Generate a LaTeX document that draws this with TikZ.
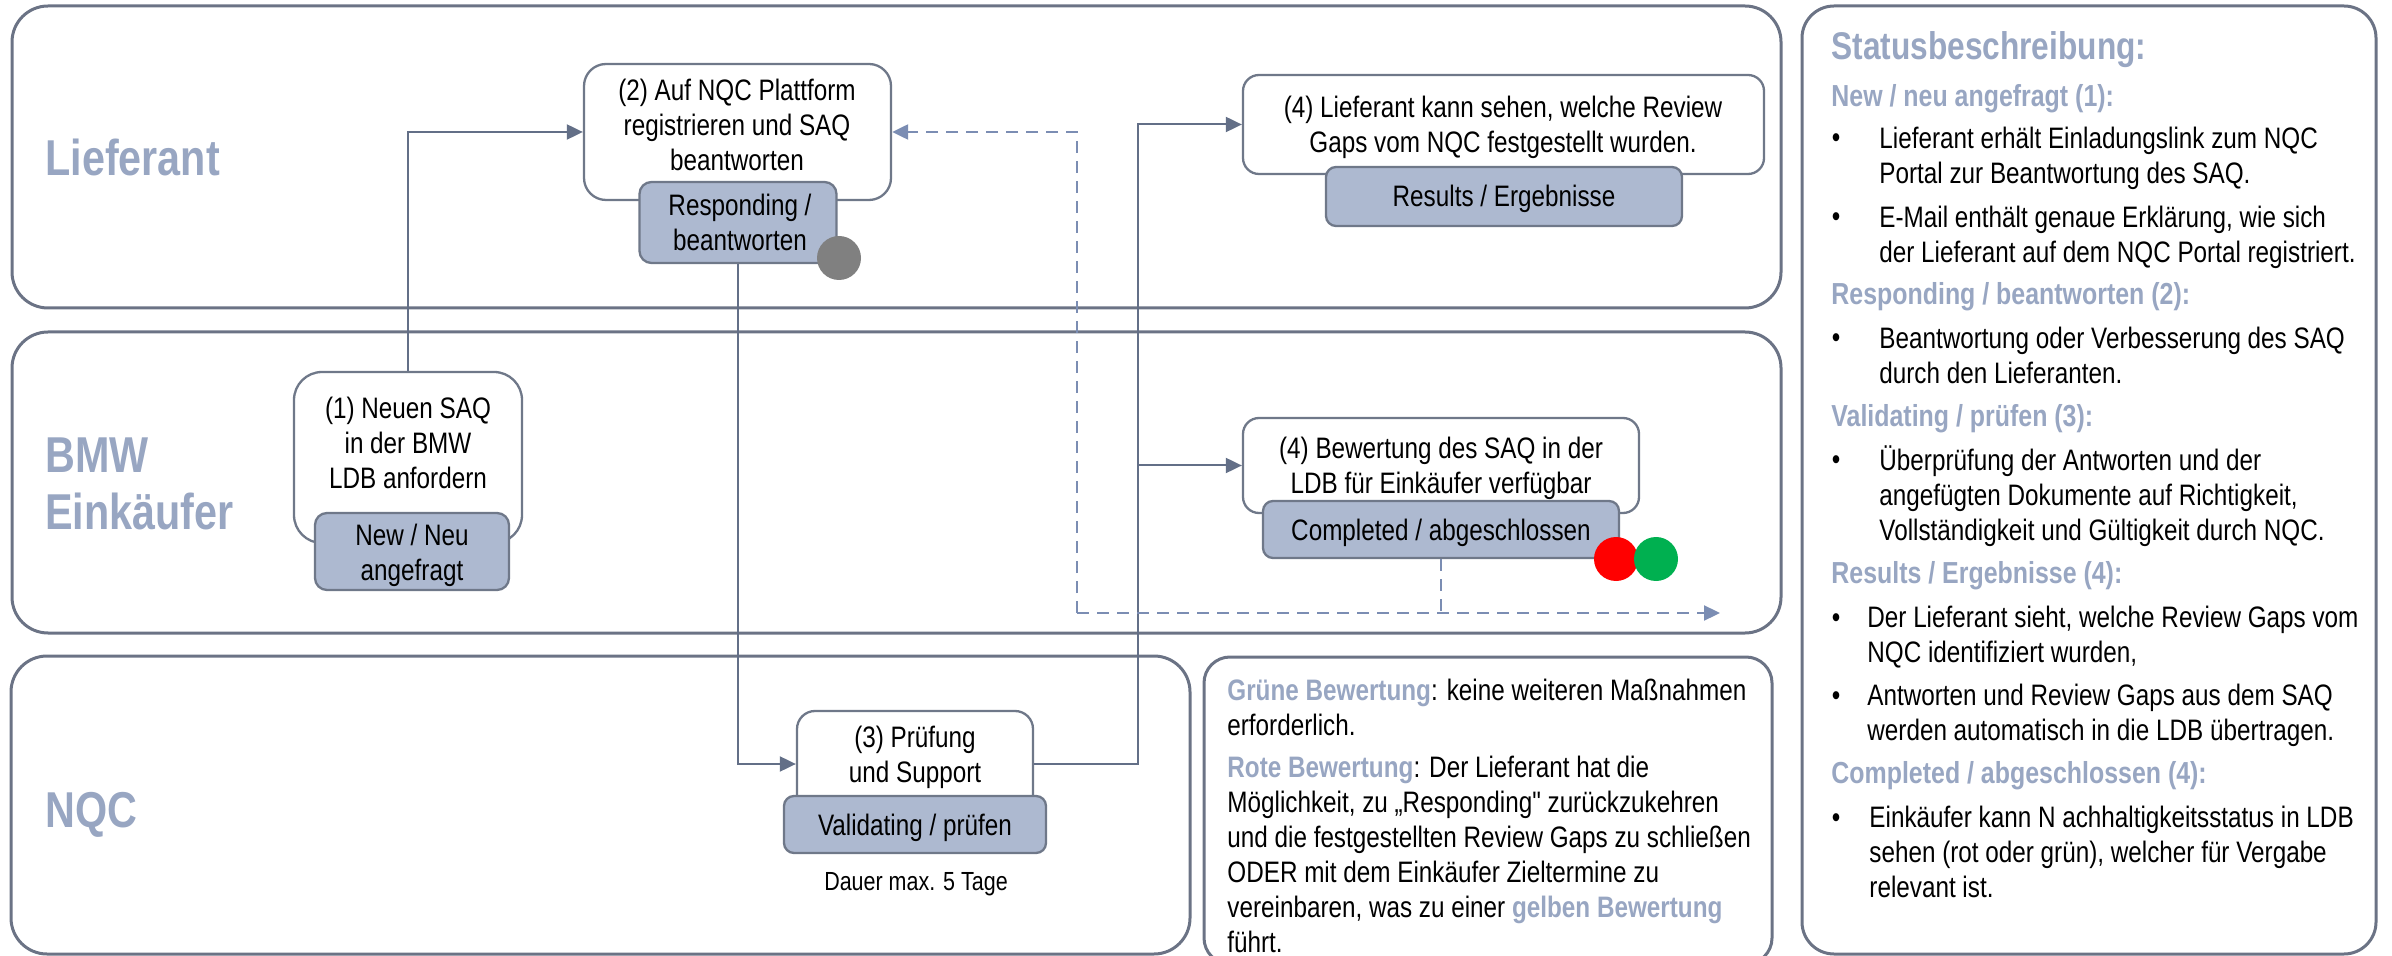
\documentclass[tikz,border=0pt]{standalone}
\usepackage{fontspec}
\setmainfont{Liberation Sans}[FakeStretch=0.82]
\newfontfamily\plainf{Liberation Sans}[FakeStretch=0.82]
\usetikzlibrary{arrows.meta}
\definecolor{lanec}{HTML}{6B7385}
\definecolor{boxc}{HTML}{6F7889}
\definecolor{statfill}{HTML}{ADB9D0}
\definecolor{labc}{HTML}{98A6C2}
\definecolor{connc}{HTML}{636F87}
\definecolor{dashc}{HTML}{7B8DB3}
\definecolor{dotgray}{HTML}{808080}
\definecolor{dotred}{HTML}{FF0000}
\definecolor{dotgreen}{HTML}{00B050}
\newcommand\bs{\rule[-5.25pt]{0pt}{17.5pt}}
\newcommand\ls{\rule[-8.55pt]{0pt}{28.5pt}}
\newcommand\bodyf{\fontsize{14.8}{17.5}\selectfont}
\newcommand\subf{\fontsize{15.2}{17.5}\selectfont\bfseries}
\newcommand\headf{\fontsize{19.3}{22}\selectfont\bfseries}
\newcommand\lanef{\fontsize{25.2}{28.5}\selectfont\bfseries}
\newcommand\smallf{\fontsize{13.1}{15}\selectfont}
\begin{document}
\begin{tikzpicture}[x=0.5pt,y=-0.5pt,
  lane/.style={draw=lanec, line width=1.5pt, rounded corners=18pt},
  panel/.style={draw=lanec, line width=1.5pt, rounded corners=16pt},
  box/.style={draw=boxc, fill=white, line width=1.15pt, inner sep=0pt},
  stat/.style={draw=boxc, fill=statfill, line width=1.15pt, inner sep=0pt, rounded corners=5pt},
  txt/.style={inner sep=0pt, font=\bodyf, align=center, text=black},
  ptxt/.style={inner sep=0pt, font=\bodyf, align=left, text=black, anchor=north west},
  bul/.style={inner sep=0pt, font=\bodyf, text=black, anchor=base},
  subh/.style={inner sep=0pt, font=\subf, text=labc, anchor=base west},
  lanelab/.style={inner sep=0pt, font=\lanef, text=labc},
  dot/.style={circle, inner sep=0pt, minimum size=22pt},
  conn/.style={draw=connc, line width=1pt, -{Triangle[length=8pt,width=7.5pt]}},
  dconn/.style={draw=dashc, line width=1.1pt, dash pattern=on 6pt off 4pt},
  dtip/.style={-{Triangle[length=8pt,width=7.5pt]}}
]
\useasboundingbox (0,0) rectangle (2392,956);
\clip (0,0) rectangle (2392,956);

% lanes
\draw[lane] (12,6) rectangle (1781,308);
\draw[lane] (12,332) rectangle (1781,633);
\draw[lane] (11,656) rectangle (1190,954);
\draw[panel] (1802,6) rectangle (2376,954);
\draw[panel, rounded corners=13pt] (1204,657) rectangle (1772,964);

% lane labels
\node[lanelab, anchor=base west] (lab1) at (45,176) {Lieferant};
\node[lanelab, anchor=north west, align=left] (lab2) at (45,432.1) {\ls BMW\\Einkäufer};
\node[lanelab, anchor=base west] (lab3) at (45,827) {NQC};

% step boxes
\node[box, rounded corners=14pt, minimum width=114pt, minimum height=85.5pt] (n1) at (408,457.5) {};
\node[stat, rounded corners=6pt, minimum width=97pt, minimum height=38.5pt] (s1) at (412,551.5) {};
\node[box, rounded corners=11pt, minimum width=153.5pt, minimum height=68pt] (n2) at (737.5,132) {};
\node[stat, rounded corners=6pt, minimum width=98.5pt, minimum height=40.5pt] (s2) at (738,222.5) {};
\node[box, rounded corners=9pt, minimum width=118pt, minimum height=53pt] (n3) at (915,764) {};
\node[stat, minimum width=131pt, minimum height=28.5pt] (s3) at (915,824.5) {};
\node[box, rounded corners=8pt, minimum width=260.5pt, minimum height=49.5pt] (n4a) at (1503.5,124.5) {};
\node[stat, minimum width=178pt, minimum height=29.5pt] (s4a) at (1504,196.5) {};
\node[box, rounded corners=8pt, minimum width=198pt, minimum height=47.5pt] (n4b) at (1441,465.5) {};
\node[stat, minimum width=178pt, minimum height=28.5pt] (s4b) at (1441,529.5) {};

% status dots
\node[dot, fill=dotgray] (gd) at (839,258) {};
\node[dot, fill=dotred] (rd) at (1616,559) {};
\node[dot, fill=dotgreen] (gn) at (1656,559) {};

% solid connectors
\coordinate (jx) at (1138,0);
\draw[conn] (n1.north) |- (n2.west);
\draw[conn] (s2.south) |- (n3.west);
\draw[conn] (n3.east) -- (n3.east -| jx) -- (jx |- n4a.west) -- (n4a.west);
\draw[conn] (jx |- n4b.west) -- (n4b.west);

% dashed connectors
\coordinate (dl) at (1077,613);
\coordinate (dend) at (1720,613);
\draw[dconn] (s4b.south) -- (s4b.south |- dl);
\draw[dconn, dtip] (dl) -- (dend);
\draw[dconn, dtip] (dl) |- (n2.east);

% texts in boxes
\node[txt, anchor=north] (n1t) at (408,393.5) {\bs(1) Neuen SAQ\\in der BMW\\LDB anfordern};
\node[txt, anchor=north] (s1t) at (412,520.5) {\bs New / Neu\\angefragt};
\node[txt, anchor=north] (n2t) at (737,75.5) {\bs(2) Auf NQC Plattform\\registrieren und SAQ\\beantworten};
\node[txt, anchor=north] (s2t) at (740,190.5) {\bs Responding /\\beantworten};
\node[txt, anchor=north] (n3t) at (915,722.5) {\bs(3) Prüfung\\und Support};
\node[txt, anchor=base] (s3t) at (915,835) {Validating / prüfen};
\node[txt, anchor=base, font=\smallf] (dauer) at (916,890) {Dauer max. 5 Tage};
\node[txt, anchor=north] (n4at) at (1503,92.5) {\bs(4) Lieferant kann sehen, welche Review\\Gaps vom NQC festgestellt wurden.};
\node[txt, anchor=base] (s4at) at (1504,207) {Results / Ergebnisse};
\node[txt, anchor=north] (n4bt) at (1441,433.5) {\bs(4) Bewertung des SAQ in der\\LDB für Einkäufer verfügbar};
\node[txt, anchor=base] (s4bt) at (1441,540) {Completed / abgeschlossen};

% legend
\node[ptxt] (g1) at (1227,675.5) {\bs\textcolor{labc}{\bfseries Grüne Bewertung}: keine weiteren Maßnahmen\\erforderlich.};
\node[ptxt] (g2) at (1227,752.5) {\bs\textcolor{labc}{\bfseries Rote Bewertung}: Der Lieferant hat die\\Möglichkeit, zu „Responding{\plainf"} zurückzukehren\\und die festgestellten Review Gaps zu schließen\\ODER mit dem Einkäufer Zieltermine zu\\vereinbaren, was zu einer \textcolor{labc}{\bfseries gelben Bewertung}\\führt.};

% sidebar
\node[inner sep=0pt, font=\headf, text=labc, anchor=base west] (sh) at (1831,60) {Statusbeschreibung:};
\node[subh] (sh1) at (1831,107) {New / neu angefragt (1):};
\node[bul] (b1) at (1836,148) {•};
\node[ptxt] (p1) at (1879,123.5) {\bs Lieferant erhält Einladungslink zum NQC\\Portal zur Beantwortung des SAQ.};
\node[bul] (b2) at (1836,227) {•};
\node[ptxt] (p2) at (1879,202.5) {\bs E-Mail enthält genaue Erklärung, wie sich\\der Lieferant auf dem NQC Portal registriert.};
\node[subh] (sh2) at (1831,305) {Responding / beantworten (2):};
\node[bul] (b3) at (1836,348) {•};
\node[ptxt] (p3) at (1879,323.5) {\bs Beantwortung oder Verbesserung des SAQ\\durch den Lieferanten.};
\node[subh] (sh3) at (1831,427) {Validating / prüfen (3):};
\node[bul] (b4) at (1836,470) {•};
\node[ptxt] (p4) at (1879,445.5) {\bs Überprüfung der Antworten und der\\angefügten Dokumente auf Richtigkeit,\\Vollständigkeit und Gültigkeit durch NQC.};
\node[subh] (sh4) at (1831,583) {Results / Ergebnisse (4):};
\node[bul] (b5) at (1836,627) {•};
\node[ptxt] (p5) at (1867,602.5) {\bs Der Lieferant sieht, welche Review Gaps vom\\NQC identifiziert wurden,};
\node[bul] (b6) at (1836,705) {•};
\node[ptxt] (p6) at (1867,680.5) {\bs Antworten und Review Gaps aus dem SAQ\\werden automatisch in die LDB übertragen.};
\node[subh] (sh5) at (1831,783) {Completed / abgeschlossen (4):};
\node[bul] (b7) at (1836,827) {•};
\node[ptxt] (p7) at (1869,802.5) {\bs Einkäufer kann N achhaltigkeitsstatus in LDB\\sehen (rot oder grün), welcher für Vergabe\\relevant ist.};
\end{tikzpicture}
\end{document}
